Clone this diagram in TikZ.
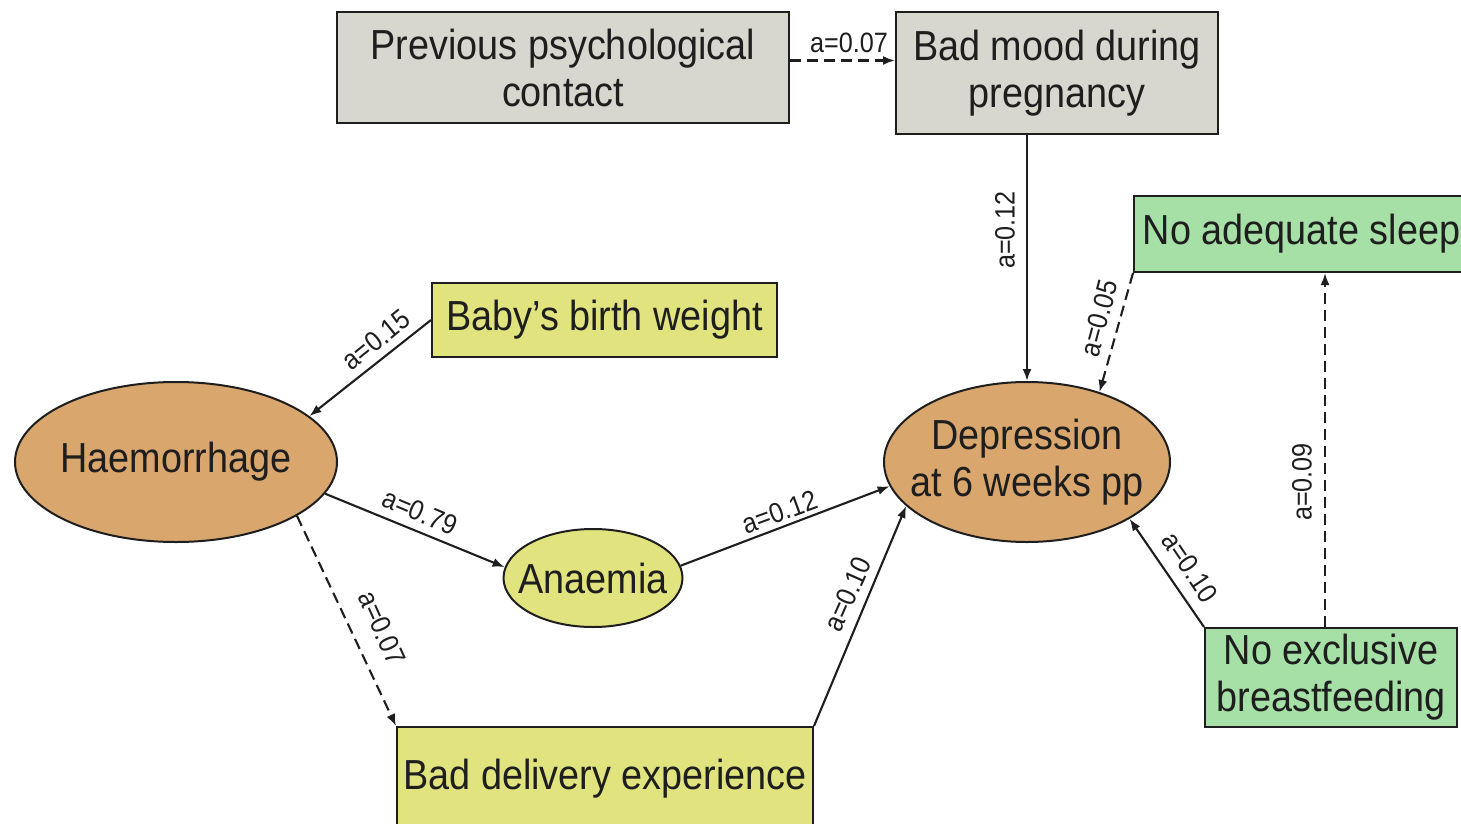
\documentclass[tikz,border=0pt]{standalone}
\usepackage{fontspec}
\setmainfont{Liberation Sans}[FakeStretch=0.9]
\usetikzlibrary{shapes.geometric,arrows.meta}
\definecolor{boxgray}{RGB}{215,215,207}
\definecolor{boxyellow}{RGB}{225,228,126}
\definecolor{boxtan}{RGB}{217,166,110}
\definecolor{boxgreen}{RGB}{166,224,166}
\definecolor{ink}{RGB}{30,30,30}
\begin{document}
\begin{tikzpicture}[x=1pt,y=-1pt,
  box/.style={draw=ink, line width=2pt, inner sep=0pt, align=center,
    font=\fontsize{42}{47}\selectfont, text=ink},
  ell/.style={box, ellipse, inner sep=-20pt},
  conn/.style={draw=ink, line width=2.1pt, -{Latex[length=12pt,width=9pt]}},
  dconn/.style={conn, dash pattern=on 11pt off 6pt},
  lab/.style={font=\fontsize{28}{30}\selectfont, inner sep=0pt, text=ink}]
\useasboundingbox (0,0) rectangle (1461,824);
% nodes
\node[box, fill=boxgray, minimum width=452pt, minimum height=111pt] (prev) at (563,67.5) {Previous psychological\\contact};
\node[box, fill=boxgray, minimum width=322pt, minimum height=122pt] (mood) at (1057,73) {Bad mood during\\pregnancy};
\node[box, fill=boxgreen, minimum width=335pt, minimum height=76pt, anchor=west] (sleep) at (1133,234) {No adequate sleep};
\node[box, fill=boxyellow, minimum width=345pt, minimum height=74pt] (bw) at (604.5,320) {Baby’s birth weight};
\node[ell, fill=boxtan, minimum width=322pt, minimum height=160pt] (haem) at (176,462) {Haemorrhage};
\node[ell, fill=boxyellow, minimum width=179pt, minimum height=98pt] (anae) at (593,578) {Anaemia};
\node[ell, fill=boxtan, minimum width=286pt, minimum height=160pt] (dep) at (1027,462) {Depression\\at 6 weeks pp};
\node[box, fill=boxyellow, minimum width=416pt, minimum height=103pt] (bd) at (605,778.5) {Bad delivery experience};
\node[box, fill=boxgreen, minimum width=252pt, minimum height=99pt] (bf) at (1331,677.5) {No exclusive\\breastfeeding};
% helper coordinates
\coordinate (p1) at ([yshift=7pt]prev.east);
\coordinate (b1) at ([xshift=-6pt]bf.north);
% connectors
\draw[dconn] (p1) -- (p1 -| mood.west);
\draw[conn] (dep.north |- mood.south) -- (dep.north);
\draw[dconn] (sleep.south west) -- (dep.44);
\draw[dconn] (b1) -- (b1 |- sleep.south);
\draw[conn] (bf.north west) -- (dep.-29);
\draw[conn] (bd.north east) -- (dep.200);
\draw[conn] (anae.8) -- (dep.190);
\draw[conn] (haem.-12) -- (anae.173);
\draw[dconn] (haem.-24) -- (bd.north west);
\draw[conn] (bw.west) -- (haem.19);
% labels
\node[lab] (l1) at (849,43) {a=0.07};
\node[lab, rotate=90] (l2) at (1005,230) {a=0.12};
\node[lab, rotate=75] (l3) at (1099,318) {a=0.05};
\node[lab, rotate=90] (l4) at (1302,482) {a=0.09};
\node[lab, rotate=-56] (l5) at (1190,567) {a=0.10};
\node[lab, rotate=39] (l6) at (376,340) {a=0.15};
\node[lab, rotate=-23] (l7) at (420,512) {a=0.79};
\node[lab, rotate=20] (l8) at (780,512) {a=0.12};
\node[lab, rotate=-66] (l9) at (382,628) {a=0.07};
\node[lab, rotate=66] (l10) at (848,594) {a=0.10};
\end{tikzpicture}
\end{document}
